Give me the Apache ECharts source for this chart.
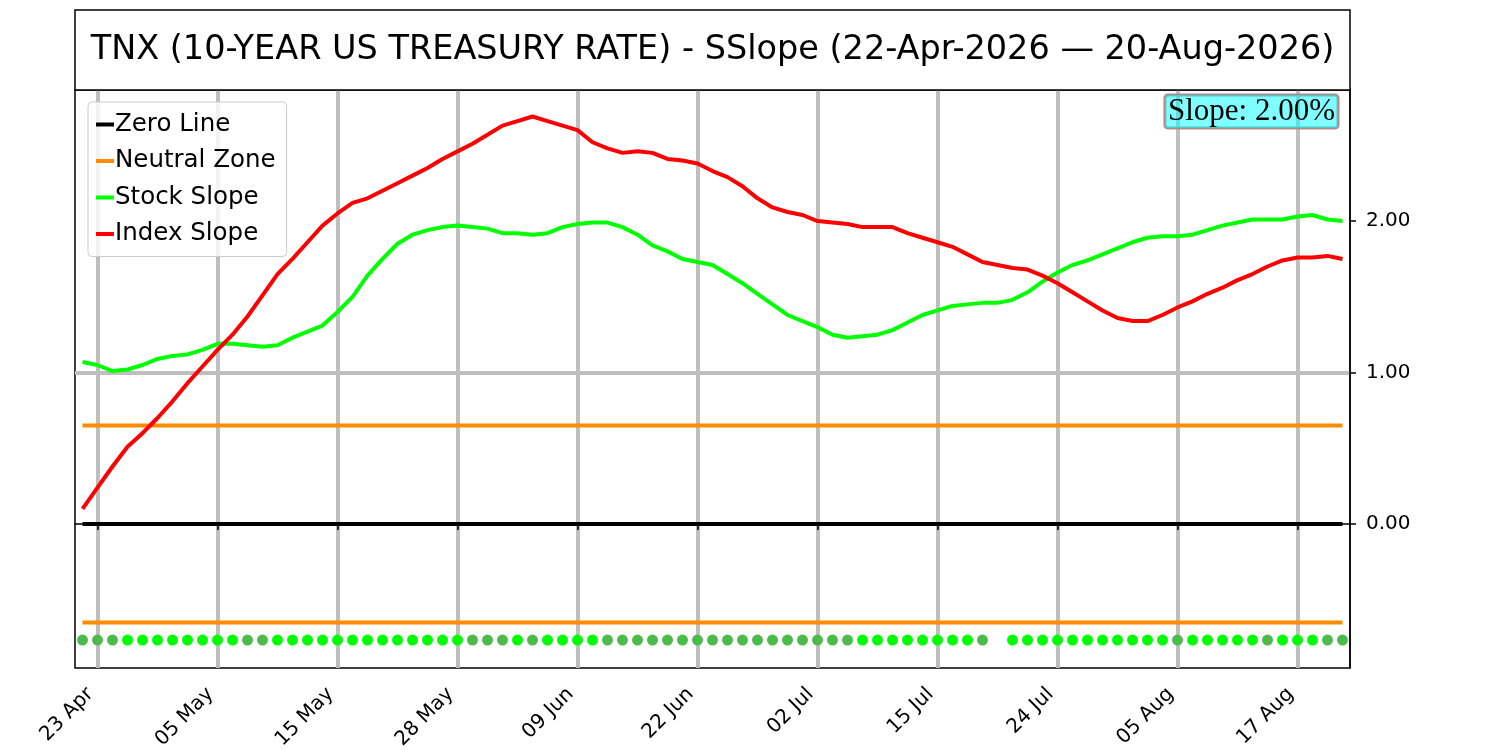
<!DOCTYPE html>
<html>
<head>
<meta charset="utf-8">
<title>TNX SSlope</title>
<script src="https://cdn.jsdelivr.net/npm/echarts@6/dist/echarts.min.js"></script>
<style>
  html, body { margin: 0; padding: 0; background: #fff; }
  #main { width: 1500px; height: 750px; }
</style>
</head>
<body>
<div id="main"></div>
<script>
var dates = [
    '22 Apr', '23 Apr', '24 Apr', '27 Apr', '28 Apr', '29 Apr', '30 Apr', '01 May', '04 May', '05 May',
    '06 May', '07 May', '08 May', '11 May', '12 May', '13 May', '14 May', '15 May', '18 May', '19 May',
    '20 May', '21 May', '22 May', '26 May', '27 May', '28 May', '29 May', '01 Jun', '02 Jun', '03 Jun',
    '04 Jun', '05 Jun', '08 Jun', '09 Jun', '10 Jun', '11 Jun', '12 Jun', '15 Jun', '16 Jun', '17 Jun',
    '18 Jun', '22 Jun', '23 Jun', '24 Jun', '25 Jun', '26 Jun', '29 Jun', '30 Jun', '01 Jul', '02 Jul',
    '06 Jul', '07 Jul', '08 Jul', '09 Jul', '10 Jul', '13 Jul', '14 Jul', '15 Jul', '16 Jul', '17 Jul',
    '18 Jul', '20 Jul', '21 Jul', '22 Jul', '23 Jul', '24 Jul', '27 Jul', '28 Jul', '29 Jul', '30 Jul',
    '31 Jul', '03 Aug', '04 Aug', '05 Aug', '06 Aug', '07 Aug', '10 Aug', '11 Aug', '12 Aug', '13 Aug',
    '14 Aug', '17 Aug', '18 Aug', '19 Aug', '20 Aug'
];

var stockSlope = [
    1.07, 1.05, 1.01, 1.02, 1.05, 1.09, 1.11, 1.12, 1.15, 1.19,
    1.19, 1.18, 1.17, 1.18, 1.23, 1.27, 1.31, 1.40, 1.50, 1.64,
    1.75, 1.85, 1.91, 1.94, 1.96, 1.97, 1.96, 1.95, 1.92, 1.92,
    1.91, 1.92, 1.96, 1.98, 1.99, 1.99, 1.96, 1.91, 1.84, 1.80,
    1.75, 1.73, 1.71, 1.65, 1.59, 1.52, 1.45, 1.38, 1.34, 1.30,
    1.25, 1.23, 1.24, 1.25, 1.28, 1.33, 1.38, 1.41, 1.44, 1.45,
    1.46, 1.46, 1.48, 1.53, 1.60, 1.66, 1.71, 1.74, 1.78, 1.82,
    1.86, 1.89, 1.90, 1.90, 1.91, 1.94, 1.97, 1.99, 2.01, 2.01,
    2.01, 2.03, 2.04, 2.01, 2.00
];

var indexSlope = [
    0.10, 0.24, 0.38, 0.51, 0.60, 0.70, 0.81, 0.93, 1.04, 1.15,
    1.25, 1.37, 1.51, 1.65, 1.75, 1.86, 1.97, 2.05, 2.12, 2.15,
    2.20, 2.25, 2.30, 2.35, 2.41, 2.46, 2.51, 2.57, 2.63, 2.66,
    2.69, 2.66, 2.63, 2.60, 2.52, 2.48, 2.45, 2.46, 2.45, 2.41,
    2.40, 2.38, 2.33, 2.29, 2.23, 2.15, 2.09, 2.06, 2.04, 2.00,
    1.99, 1.98, 1.96, 1.96, 1.96, 1.92, 1.89, 1.86, 1.83, 1.78,
    1.73, 1.71, 1.69, 1.68, 1.64, 1.59, 1.53, 1.47, 1.41, 1.36,
    1.34, 1.34, 1.38, 1.43, 1.47, 1.52, 1.56, 1.61, 1.65, 1.70,
    1.74, 1.76, 1.76, 1.77, 1.75
];

// 1 = strong signal (lime), 0 = weak signal (dull green), null = no signal
var signal = [
    0, 0, 0, 1, 1, 1, 1, 1, 1, 1,
    1, 0, 0, 1, 1, 1, 1, 1, 1, 1,
    1, 1, 1, 1, 1, 1, 0, 0, 0, 1,
    0, 1, 1, 1, 1, 0, 0, 0, 0, 0,
    0, 0, 0, 0, 0, 0, 0, 0, 0, 0,
    0, 0, 1, 1, 1, 1, 1, 1, 1, 1,
    0, null, 1, 1, 1, 1, 1, 1, 1, 1,
    1, 1, 1, 0, 1, 1, 1, 1, 1, 0,
    1, 1, 1, 0, 0
];

var zeroLevel = 0;
var neutralLevel = 0.65;
var signalLevel = -0.766;
var yMin = -0.95;
var yMax = 2.865;
var yTicks = [0, 1, 2];
var lastSlope = 2.00;

var titleText = 'TNX (10-YEAR US TREASURY RATE) - SSlope (22-Apr-2026 \u2014 20-Aug-2026)';

function showTick(index) {
    return index % 8 === 1;
}

var signalData = signal.map(function (s) {
    if (s === null) return '-';
    return {
        value: signalLevel,
        itemStyle: { color: s === 1 ? '#00ff00' : '#4cbb4c', opacity: 1 }
    };
});

var myChart = echarts.init(document.getElementById('main'));

var option = {
    animation: false,
    textStyle: { fontFamily: 'DejaVu Sans' },
    grid: {
        left: 75,
        right: 150,
        top: 90,
        bottom: 82,
        outerBoundsMode: 'none',
        containLabel: false,
        show: true,
        borderColor: '#000',
        borderWidth: 1.5,
        backgroundColor: 'transparent'
    },
    legend: {
        orient: 'vertical',
        left: 88,
        top: 102,
        padding: [10, 11, 10, 8],
        itemGap: 11.5,
        itemWidth: 18,
        itemHeight: 4,
        icon: 'rect',
        backgroundColor: 'rgba(255,255,255,0.8)',
        borderColor: '#cccccc',
        borderWidth: 1,
        borderRadius: 4,
        textStyle: { fontSize: 24.5, color: '#000', fontFamily: 'DejaVu Sans', padding: [0, 0, 0, -4] },
        data: ['Zero Line', 'Neutral Zone', 'Stock Slope', 'Index Slope']
    },
    xAxis: {
        type: 'category',
        data: dates,
        boundaryGap: true,
        axisLine: { show: true, lineStyle: { color: '#000', width: 1.5 } },
        axisTick: {
            show: true,
            alignWithLabel: true,
            interval: showTick,
            length: 6,
            lineStyle: { color: '#000', width: 1.5 }
        },
        axisLabel: {
            interval: showTick,
            rotate: 45,
            fontSize: 20,
            color: '#000',
            margin: 16,
            padding: [0, 10, 0, 0],
            fontFamily: 'DejaVu Sans'
        },
        splitLine: {
            show: true,
            alignWithLabel: true,
            interval: showTick,
            lineStyle: { color: '#bfbfbf', width: 4 }
        }
    },
    yAxis: {
        type: 'value',
        position: 'right',
        min: yMin,
        max: yMax,
        axisLine: { show: true, lineStyle: { color: '#000', width: 1.5 } },
        axisTick: {
            show: true,
            length: 6,
            customValues: yTicks,
            lineStyle: { color: '#000', width: 1.5 }
        },
        axisLabel: {
            customValues: yTicks,
            fontSize: 20,
            color: '#000',
            margin: 16,
            fontFamily: 'DejaVu Sans',
            formatter: function (v) { return v.toFixed(2); }
        },
        splitLine: {
            show: true,
            showMinLine: false,
            showMaxLine: false,
            lineStyle: { color: '#bfbfbf', width: 4 }
        }
    },
    graphic: [
        {
            type: 'rect',
            shape: { x: 75, y: 10, width: 1275, height: 80 },
            style: { fill: '#fff', stroke: '#000', lineWidth: 1.5 },
            z: 100
        },
        {
            type: 'text',
            x: 712.5,
            y: 50,
            style: {
                text: titleText,
                font: '33.5px "DejaVu Sans"',
                fill: '#000',
                align: 'center',
                verticalAlign: 'middle'
            },
            z: 101
        },
        {
            type: 'text',
            x: 1338,
            y: 95,
            style: {
                text: 'Slope: ' + lastSlope.toFixed(2) + '%',
                font: '31px "Liberation Serif"',
                fill: '#000',
                align: 'right',
                verticalAlign: 'top',
                backgroundColor: 'rgba(0,255,255,0.5)',
                borderColor: '#b08a8a',
                borderWidth: 1.5,
                borderRadius: 3,
                padding: [1, 3, 1, 3]
            },
            z: 101
        }
    ],
    series: [
        {
            name: 'Zero Line',
            type: 'line',
            data: dates.map(function () { return zeroLevel; }),
            symbol: 'none',
            lineStyle: { color: '#000', width: 4 },
            itemStyle: { color: '#000' },
            z: 3
        },
        {
            name: 'Neutral Zone',
            type: 'line',
            data: dates.map(function () { return neutralLevel; }),
            symbol: 'none',
            lineStyle: { color: '#ff8c00', width: 4 },
            itemStyle: { color: '#ff8c00' },
            z: 3
        },
        {
            name: 'Neutral Zone',
            type: 'line',
            data: dates.map(function () { return -neutralLevel; }),
            symbol: 'none',
            lineStyle: { color: '#ff8c00', width: 4 },
            itemStyle: { color: '#ff8c00' },
            z: 3
        },
        {
            name: 'Stock Slope',
            type: 'line',
            data: stockSlope,
            symbol: 'none',
            lineStyle: { color: '#00ff00', width: 4 },
            itemStyle: { color: '#00ff00' },
            z: 4
        },
        {
            name: 'Index Slope',
            type: 'line',
            data: indexSlope,
            symbol: 'none',
            lineStyle: { color: '#ff0000', width: 4 },
            itemStyle: { color: '#ff0000' },
            z: 5
        },
        {
            name: 'Signal',
            type: 'scatter',
            data: signalData,
            symbol: 'circle',
            symbolSize: 11,
            itemStyle: { opacity: 1 },
            z: 4
        }
    ]
};

myChart.setOption(option);
</script>
</body>
</html>
